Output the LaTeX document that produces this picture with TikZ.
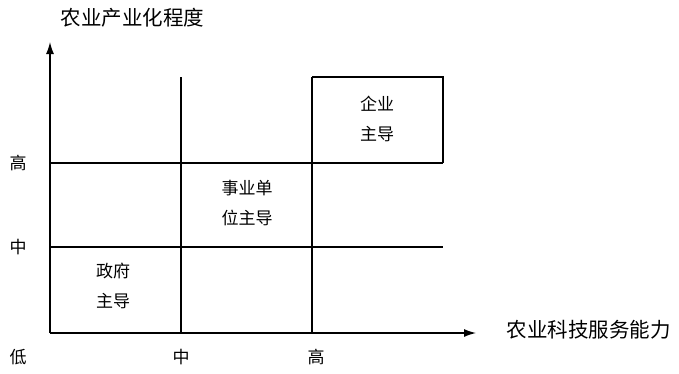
\documentclass[tikz,border=0pt]{standalone}
\usepackage{fontspec}
\newfontfamily\cjk{Noto Sans CJK SC}
\usetikzlibrary{arrows.meta}

\begin{document}
\begin{tikzpicture}[x=1pt,y=-1pt,line width=1.3pt,
	lab/.style={draw=none,font=\cjk\fontsize{17}{30}\selectfont,align=center,inner sep=0pt},
	ttl/.style={draw=none,font=\cjk\fontsize{20.5}{22}\selectfont,inner sep=0pt}]
	\useasboundingbox (0,0) rectangle (679,373);

	% axes
	\coordinate (O) at (50,333);
	\coordinate (Ytop) at (50,42);
	\coordinate (Xend) at (476,333);
	\draw[-{Latex[length=12pt,width=8pt]}] (O) -- (Ytop);
	\draw[-{Latex[length=12pt,width=8pt]}] (O) -- (Xend);

	% grid
	\coordinate (H1) at (50,163);
	\coordinate (H2) at (443,163);
	\coordinate (M1) at (50,247);
	\coordinate (M2) at (443,247);
	\coordinate (V1) at (181,77);
	\coordinate (V2) at (181,333);
	\coordinate (W1) at (312,77);
	\coordinate (W2) at (312,333);
	\coordinate (B) at (443,77);
	\draw (H1) -- (H2);
	\draw (M1) -- (M2);
	\draw (V1) -- (V2);
	\draw (W1) -- (W2);
	\draw (W1) -- (B) -- (H2);

	% axis titles
	\node (ytl)[ttl,anchor=west] at (60,18) {农业产业化程度};
	\node (xtl)[ttl,anchor=west] at (506,330) {农业科技服务能力};

	% scale marks
	\node (yh)[lab] at (18,163) {高};
	\node (ym)[lab] at (18,247) {中};
	\node (lo)[lab] at (18,357) {低};
	\node (xm)[lab] at (181,357) {中};
	\node (xh)[lab] at (316,357) {高};

	% regions
	\node (qy)[lab] at (377,119) {企业\\主导};
	\node (sy)[lab] at (247,203) {事业单\\位主导};
	\node (zf)[lab] at (113,286) {政府\\主导};
\end{tikzpicture}
\end{document}
